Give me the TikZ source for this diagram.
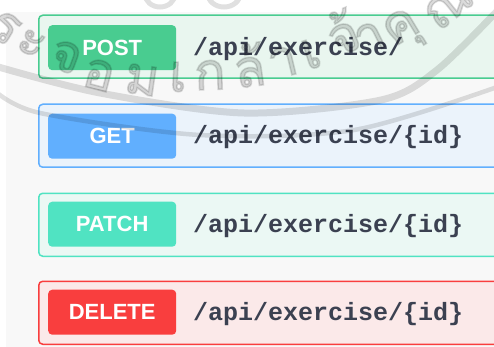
\documentclass[tikz,border=0pt]{standalone}
\usepackage{fontspec}
\setmainfont{Liberation Sans}
\newfontfamily\pathfont{Liberation Mono}
\newfontfamily\thaifont[Script=Thai, AutoFakeBold=3]{Loma}

\definecolor{pagebg}{HTML}{F8F8F8}
\definecolor{pathcol}{HTML}{3B4151}
\definecolor{postc}{HTML}{49CC90}
\definecolor{postbg}{HTML}{E9F6EF}
\definecolor{getc}{HTML}{61AFFE}
\definecolor{getbg}{HTML}{EBF3FB}
\definecolor{patchc}{HTML}{50E3C2}
\definecolor{patchbg}{HTML}{EBF8F4}
\definecolor{delc}{HTML}{F93E3E}
\definecolor{delbg}{HTML}{FBE9E9}
\definecolor{sealgray}{HTML}{000000}

\tikzset{
  oprow/.style={draw=#1, line width=1.5pt, rounded corners=4pt,
    minimum width=472pt, minimum height=63pt, anchor=north west, inner sep=0pt},
  badge/.style={fill=#1, rounded corners=4pt, minimum width=128pt,
    minimum height=45pt, inner sep=0pt, anchor=north west, text=white,
    font=\bfseries\fontsize{22}{22}\selectfont},
  route/.style={anchor=base west, inner sep=0pt, text=pathcol,
    font=\pathfont\bfseries\fontsize{25}{25}\selectfont},
  sealtext/.style={inner sep=0pt, text=sealgray, text opacity=0.14,
    font=\thaifont\bfseries\fontsize{52}{52}\selectfont},
  sealline/.style={draw=sealgray, draw opacity=0.12, line cap=round}
}

\begin{document}
\begin{tikzpicture}[x=1pt,y=-1pt]
\useasboundingbox (0,0) rectangle (494,347);
\fill[white] (0,0) rectangle (494,347);
\fill[pagebg] (6,12) rectangle (494,347);

% operation rows
\node[oprow=postc, fill=postbg] (postrow) at (38,14.5) {};
\node[badge=postc] (postbadge) at (48,25) {POST};
\node[route] (postroute) at (193,55.5) {/api/exercise/};

\node[oprow=getc, fill=getbg] (getrow) at (38,103.5) {};
\node[badge=getc] (getbadge) at (48,113.5) {GET};
\node[route] (getroute) at (193,144) {/api/exercise/\{id\}};

\node[oprow=patchc, fill=patchbg] (patchrow) at (38,192.5) {};
\node[badge=patchc] (patchbadge) at (48,201.5) {PATCH};
\node[route] (patchroute) at (193,232) {/api/exercise/\{id\}};

\node[oprow=delc, fill=delbg] (delrow) at (38,280.5) {};
\node[badge=delc] (delbadge) at (48,289.5) {DELETE};
\node[route] (delroute) at (193,320) {/api/exercise/\{id\}};

% faint seal printed over the page
\begin{scope}
\clip (0,0) rectangle (494,347);
\draw[sealline, line width=7pt] plot[smooth] coordinates
  {(-5,66) (100,93) (244,113) (381,100) (437,70) (500,8)};
\draw[sealline, line width=4.5pt] plot[smooth] coordinates
  {(-5,91) (40,113) (200,135) (354,130) (500,86)};
\draw[sealline, line width=5pt] (160,-6) ellipse (15pt and 13pt);
\draw[sealline, line width=5pt] (224,-6) ellipse (16pt and 13pt);
\node[sealtext, rotate=-30.6] (s1) at (5,28) {ร};
\node[sealtext, rotate=-26] (s2) at (31,44) {ะ};
\node[sealtext, rotate=-20.3] (s3) at (66,57) {จ};
\node[sealtext, rotate=-14.8] (s4) at (99,75) {อ};
\node[sealtext, rotate=-8.3] (s5) at (142,80) {ม};
\node[sealtext, rotate=-2.9] (s6) at (178,77) {เ};
\node[sealtext, rotate=2] (s7) at (210,75) {ก};
\node[sealtext, rotate=7.9] (s8) at (249,65) {ล้};
\node[sealtext, rotate=13.5] (s9) at (283,62) {า};
\node[sealtext, rotate=17.8] (s10) at (311,54) {เ};
\node[sealtext, rotate=22.8] (s11) at (342,32) {จ้};
\node[sealtext, rotate=26.5] (s12) at (370,38) {า};
\node[sealtext, rotate=31.2] (s13) at (404,32) {คุ};
\node[sealtext, rotate=39] (s14) at (448,6) {ณ};
\end{scope}
\end{tikzpicture}
\end{document}
